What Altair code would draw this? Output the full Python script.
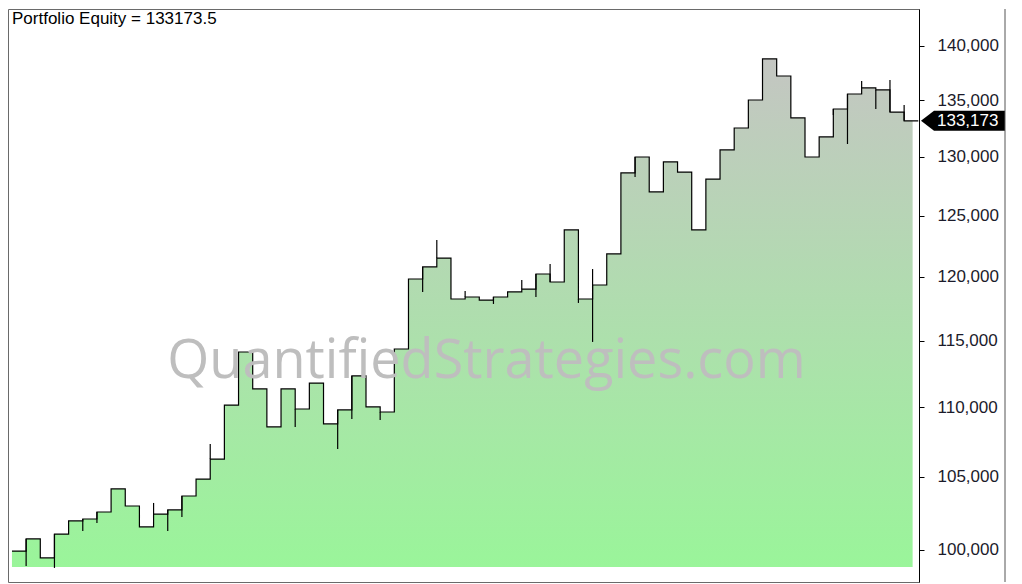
import altair as alt
import pandas as pd

# ---- data ----
equity = [99930, 100740, 99470, 101070, 101960, 102090, 102570, 104160, 102980, 101550,
          102430, 102710, 103670, 104850, 106260, 110160, 114130, 111350, 108560, 111350,
          109870, 111790, 108780, 109800, 112320, 110020, 109650, 114360, 119830, 120800,
          121520, 118240, 118400, 118160, 118400, 118800, 119030, 120230, 119590, 123820,
          118240, 119350, 121850, 128620, 130000, 127000, 129570, 128700, 123820, 128100,
          130610, 132540, 135040, 138790, 137220, 133430, 130000, 131750, 134230, 135580,
          136130, 135950, 133960, 133173.5]

# intra-bar extremes (wicks) drawn at the start of a step
wick_x = [1, 3, 5, 6, 10, 11, 12, 14, 20, 23, 24, 26, 29, 30, 32, 34, 36, 37, 38, 40,
          41, 41, 44, 58, 59, 60, 61, 62, 63]
wick_end = [98940, 98810, 101280, 101820, 103190, 101280, 102230, 107330, 108560, 106980,
            109140, 109070, 118800, 122990, 118870, 117850, 119750, 118400, 121040, 117930,
            114900, 120630, 128280, 133700, 131130, 136760, 134230, 136860, 134590]

y_ticks = [100000, 105000, 110000, 115000, 120000, 125000, 130000, 135000, 140000]
title_text = "Portfolio Equity = 133173.5"
last_label = "133,173"
watermark = "QuantifiedStrategies.com"
fill_base = 98870
fill_end = 63.6   # the shaded area stops a little before the line does

# ---- tables ----
n = len(equity)
steps = pd.DataFrame({"t": list(range(n)) + [n], "v": equity + [equity[-1]]})
fill = pd.DataFrame({"t": list(range(n)) + [fill_end], "v": equity + [equity[-1]]})
fill["base"] = fill_base

wicks = pd.DataFrame({"t": wick_x, "lo": wick_end,
                      "hi": [equity[i] for i in wick_x]})
last = pd.DataFrame({"v": [equity[-1]], "label": [last_label]})
title_df = pd.DataFrame({"s": [title_text]})
wm_df = pd.DataFrame({"s": [watermark]})
one = pd.DataFrame({"a": [0]})

W, H = 911, 573
FONT = "Liberation Sans"

xs = alt.Scale(domain=[-0.28, 64.05], nice=False, zero=False)
ys = alt.Scale(type="log", domain=[97886, 143498], nice=False)
yaxis = alt.Axis(orient="right", values=y_ticks, format=",d", title=None, grid=False,
                 tickSize=5, tickColor="black", domainColor="black", domainWidth=1,
                 labelFont=FONT, labelFontSize=17, labelColor="#1b1b2b",
                 labelPadding=13, labelAlign="left", labelBaseline="middle",
                 labelFlush=False, labelOverlap=False)

X = alt.X("t:Q", scale=xs, axis=None)

area = alt.Chart(fill).mark_area(
    interpolate="step-after",
    color=alt.Gradient(
        gradient="linear",
        stops=[alt.GradientStop(color="#9AF59A", offset=0),
               alt.GradientStop(color="#C4C6C2", offset=1)],
        x1=1, x2=1, y1=1, y2=0),
).encode(x=X, y=alt.Y("v:Q", scale=ys, axis=yaxis), y2="base:Q")

line = alt.Chart(steps).mark_line(
    interpolate="step-after", color="black", strokeWidth=1.2
).encode(x=X, y=alt.Y("v:Q", scale=ys, axis=yaxis))

rules = alt.Chart(wicks).mark_rule(color="black", strokeWidth=1.2).encode(
    x=X, y=alt.Y("lo:Q", scale=ys, axis=yaxis), y2="hi:Q")

wm = alt.Chart(wm_df).mark_text(
    font="Open Sans", fontSize=54, color="#BEBEBE", align="center",
    baseline="alphabetic"
).encode(x=alt.value(478.5), y=alt.value(369), text="s:N")

title = alt.Chart(title_df).mark_text(
    font=FONT, fontSize=17, color="black", align="left", baseline="alphabetic"
).encode(x=alt.value(4), y=alt.value(15), text="s:N")

tag_path = "M -1 0 L -0.69 -0.238 L 1 -0.238 L 1 0.238 L -0.69 0.238 Z"
tag = alt.Chart(last).mark_point(
    shape=tag_path, size=7056, filled=True, color="black", opacity=1, strokeWidth=0
).encode(x=alt.value(955), y=alt.Y("v:Q", scale=ys, axis=yaxis))

tag_text = alt.Chart(last).mark_text(
    font=FONT, fontSize=17, color="white", align="left", baseline="middle"
).encode(x=alt.value(929), y=alt.Y("v:Q", scale=ys, axis=yaxis), text="label:N")

border = alt.Chart(one).mark_rule(color="#555555", strokeWidth=1).encode(
    x=alt.value(997), y=alt.value(0), y2=alt.value(H))

chart = alt.layer(area, line, rules, wm, title, tag, tag_text, border).properties(
    width=W, height=H, padding=0, background="white"
).configure_view(stroke="#6a6a6a", strokeWidth=1)

chart.save("out.html", embed_options={"renderer": "svg", "actions": False})
